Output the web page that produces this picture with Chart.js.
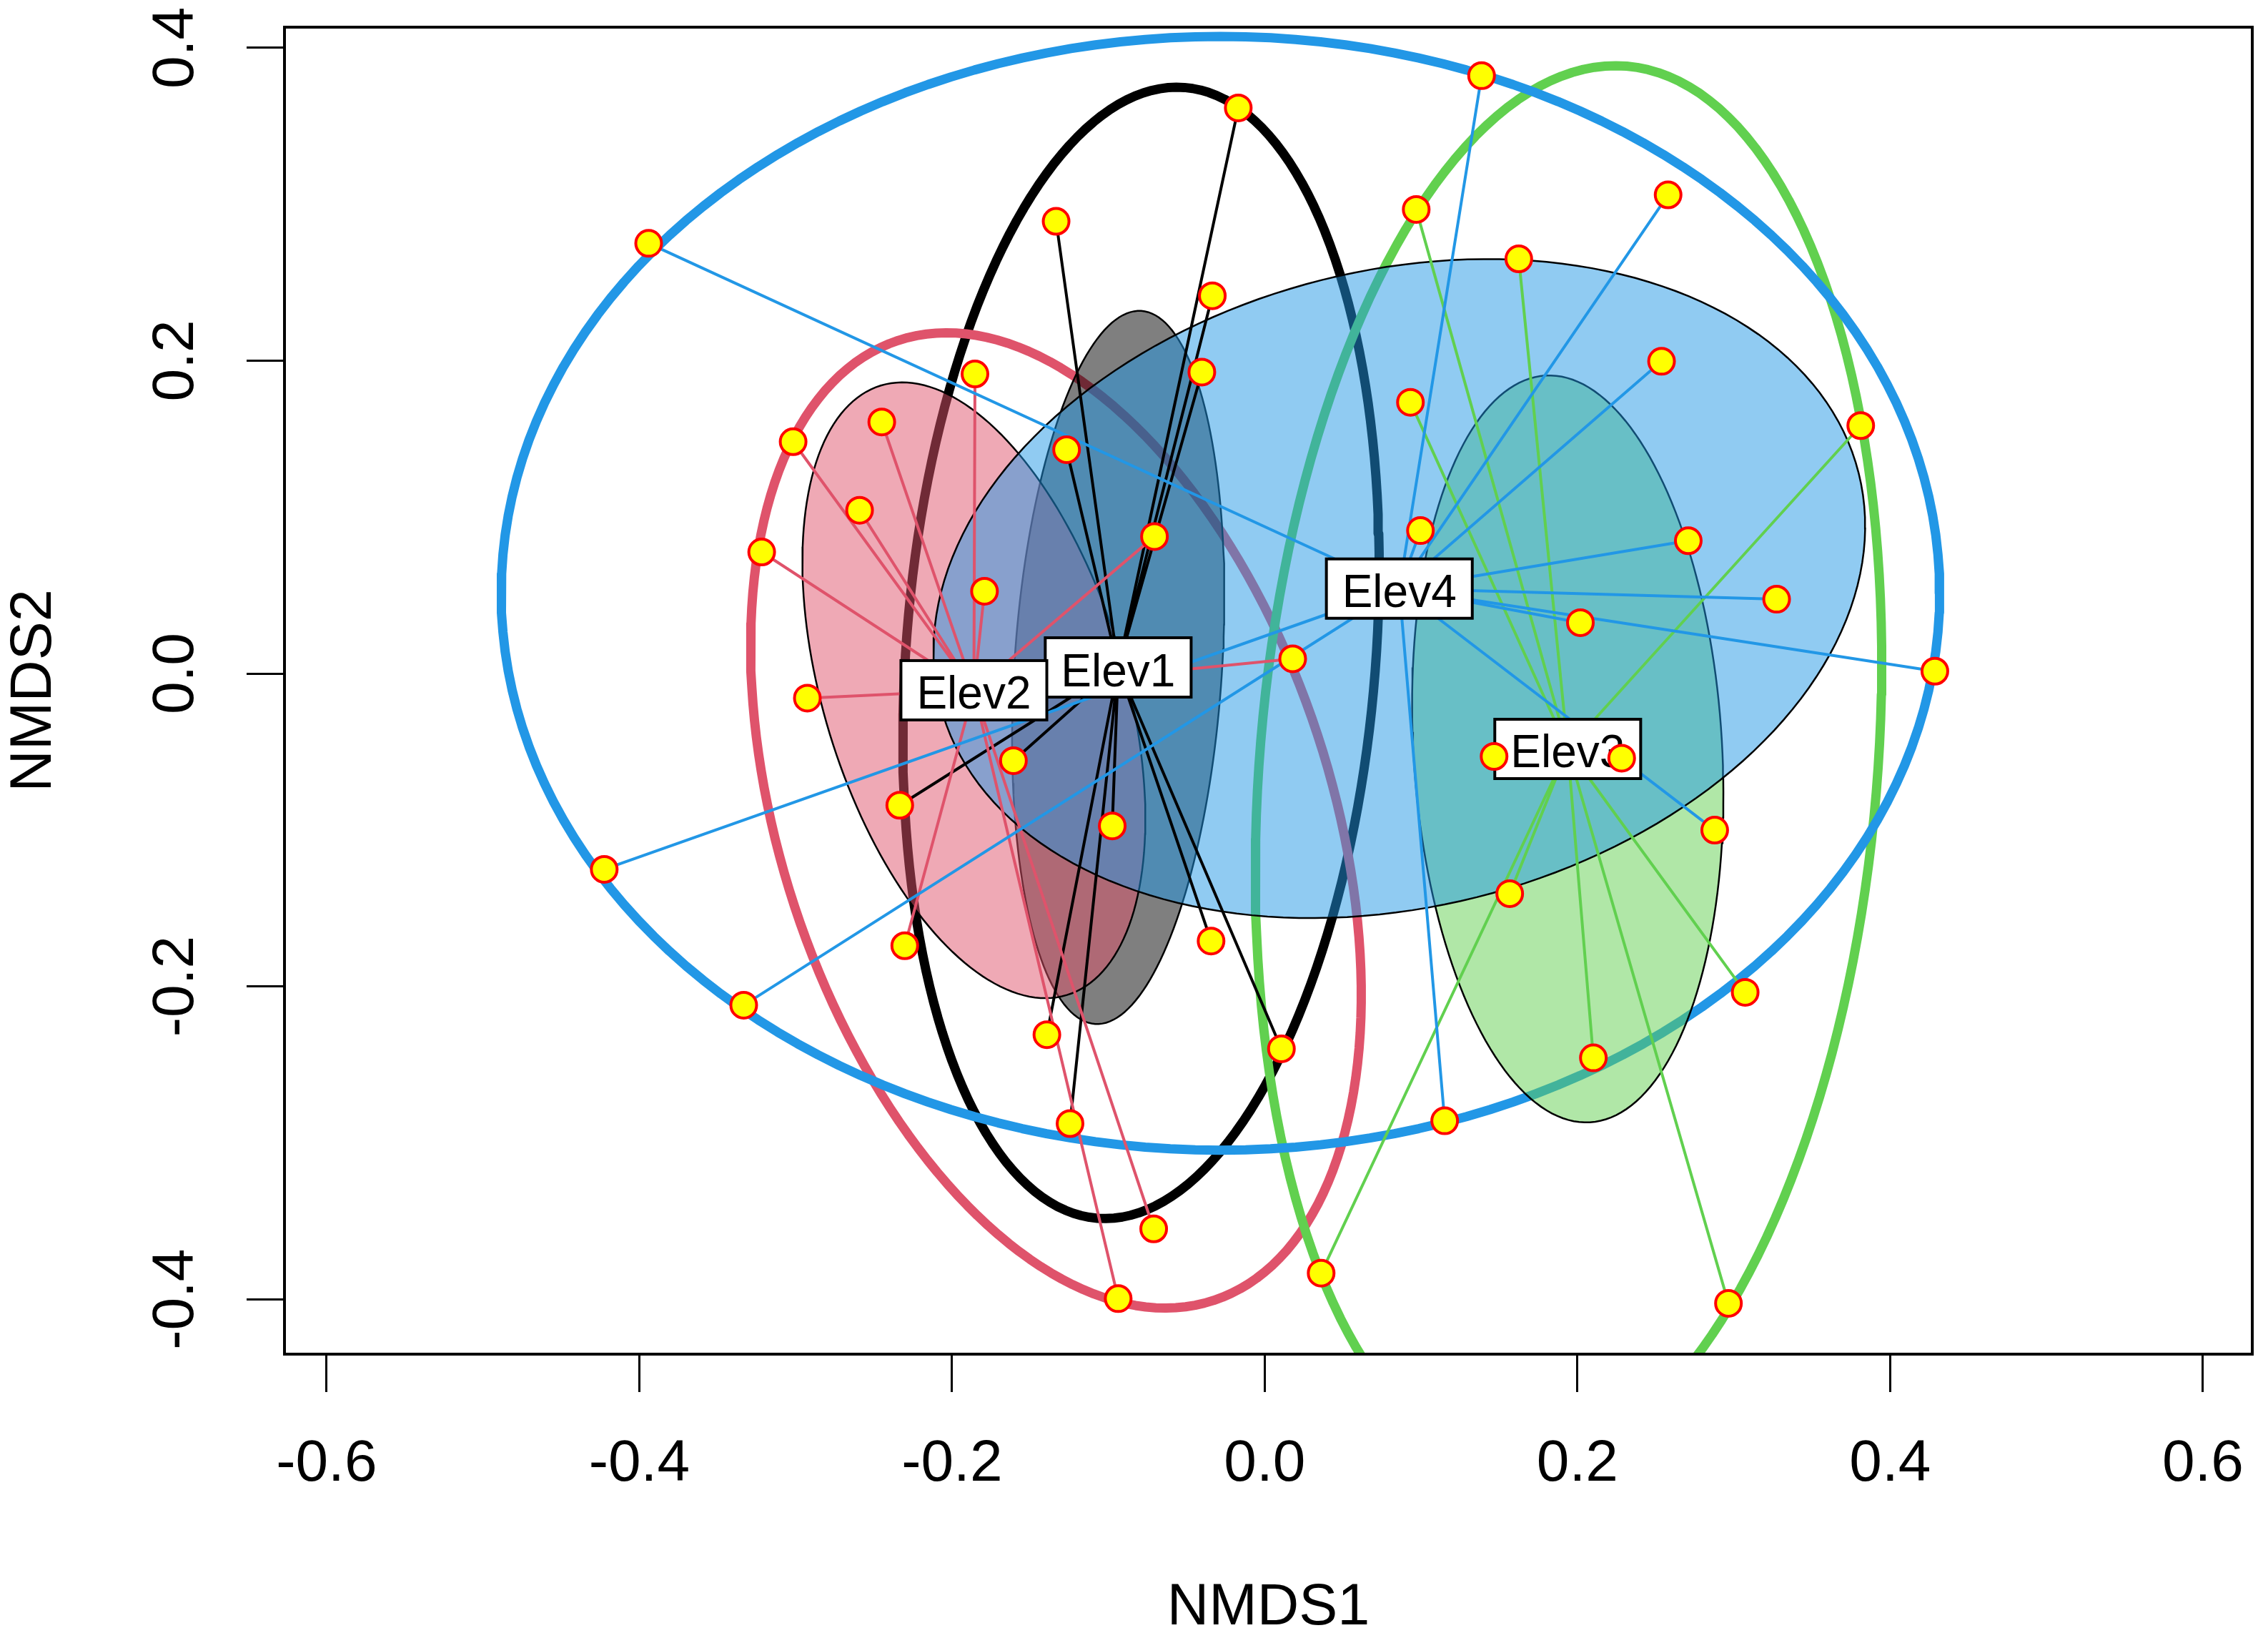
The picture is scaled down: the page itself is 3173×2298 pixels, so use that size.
<!DOCTYPE html>
<html>
<head>
<meta charset="utf-8">
<script src="https://cdn.jsdelivr.net/npm/chart.js@4.4.1/dist/chart.umd.min.js"></script>
<style>
  html, body { margin: 0; padding: 0; background: #fff; }
  #wrap { width: 3173px; height: 2298px; }
</style>
</head>
<body>
<div id="wrap"><canvas id="myChart" width="3173" height="2298"></canvas></div>
<script>
// groups (elevation classes)
const groupNames = ["Elev1", "Elev2", "Elev3", "Elev4"];

// site scores
const elev1X = [-0.0169, -0.1334, -0.0335, -0.0402, -0.1267, -0.1607, -0.2334, -0.0975, -0.0343, -0.1393, 0.0107, -0.1245];
const elev1Y = [0.3616, 0.2891, 0.2415, 0.1927, 0.1431, -0.0557, -0.0842, -0.0974, -0.1710, -0.2309, -0.2399, -0.2877];

const elev2X = [-0.3016, -0.2449, -0.1853, -0.2591, -0.3217, -0.0705, -0.1792, 0.0179, -0.2925, -0.2302, -0.0710, -0.0937];
const elev2Y = [0.1482, 0.1608, 0.1915, 0.1044, 0.0777, 0.0876, 0.0526, 0.0094, -0.0157, -0.1740, -0.3550, -0.3996];

const elev3X = [0.0969, 0.1625, 0.0932, 0.3812, 0.1467, 0.2283, 0.1567, 0.3073, 0.2102, 0.0361, 0.2966];
const elev3Y = [0.2967, 0.2651, 0.1734, 0.1585, -0.0530, -0.0541, -0.1407, -0.2038, -0.2457, -0.3833, -0.4026];

const elev4X = [-0.3940, -0.4224, -0.3332, 0.1387, 0.2580, 0.2538, 0.0996, 0.2709, 0.3274, 0.2019, 0.4286, 0.2878, 0.1151];
const elev4Y = [0.2750, -0.1252, -0.2120, 0.3822, 0.3060, 0.1996, 0.0914, 0.0849, 0.0475, 0.0325, 0.0015, -0.1001, -0.2859];

// group centroids (spider centres, label positions)
const centroidX = [-0.0937, -0.1860, 0.1938, 0.0861];
const centroidY = [0.0039, -0.0107, -0.0482, 0.0543];

// enclosing ellipses (centre, semi axes, angle in degrees)
const hullCx = [-0.0791, -0.1335, 0.1943, -0.0283];
const hullCy = [0.0132, -0.0939, -0.0596, 0.0513];
const hullA = [0.3625, 0.3230, 0.4494, 0.4600];
const hullB = [0.1502, 0.1760, 0.1975, 0.3560];
const hullAngle = [85.6, 108.2, 85.25, 0];

// standard error ellipses around the centroids
const seA = [0.2284, 0.2037, 0.2391, 0.3029];
const seB = [0.0664, 0.0963, 0.0987, 0.2034];
const seAngle = [86.3, 107.0, 93.4, 14.1];

const xTicks = [-0.6, -0.4, -0.2, 0, 0.2, 0.4, 0.6];
const yTicks = [-0.4, -0.2, 0, 0.2, 0.4];

const groupX = [elev1X, elev2X, elev3X, elev4X];
const groupY = [elev1Y, elev2Y, elev3Y, elev4Y];
const lineColors = ["#000000", "#DF536B", "#61D04F", "#2297E6"];
const fillColors = ["rgba(0,0,0,0.5)", "rgba(223,83,107,0.5)", "rgba(97,208,79,0.5)", "rgba(34,151,230,0.5)"];
const fontFamily = '"Liberation Sans", Arial, sans-serif';

function ellipse(cx, cy, a, b, deg) {
    let rad = deg * Math.PI / 180;
    let pts = [];
    for (let i = 0; i <= 182; i++) {
        let t = i / 180 * 2 * Math.PI;
        let ex = a * Math.cos(t), ey = b * Math.sin(t);
        pts.push({
            x: cx + ex * Math.cos(rad) - ey * Math.sin(rad),
            y: cy + ex * Math.sin(rad) + ey * Math.cos(rad)
        });
    }
    return pts;
}

let datasets = [];

groupNames.forEach((name, i) => {
    datasets.push({
        label: name + " hull",
        data: ellipse(hullCx[i], hullCy[i], hullA[i], hullB[i], hullAngle[i]),
        showLine: true,
        fill: false,
        borderColor: lineColors[i],
        borderWidth: 13,
        borderJoinStyle: "round",
        pointRadius: 0,
        tension: 0,
        clip: 0,
        order: 50 - i
    });
});

groupNames.forEach((name, i) => {
    datasets.push({
        label: name + " se",
        data: ellipse(centroidX[i], centroidY[i], seA[i], seB[i], seAngle[i]),
        showLine: true,
        fill: "shape",
        backgroundColor: fillColors[i],
        borderColor: "#000000",
        borderWidth: 2.5,
        pointRadius: 0,
        tension: 0,
        clip: 0,
        order: 40 - i
    });
});

groupNames.forEach((name, i) => {
    let spokes = [];
    groupX[i].forEach((x, j) => {
        spokes.push({ x: centroidX[i], y: centroidY[i] });
        spokes.push({ x: x, y: groupY[i][j] });
        spokes.push({ x: x, y: null });
    });
    datasets.push({
        label: name + " spider",
        data: spokes,
        showLine: true,
        spanGaps: false,
        fill: false,
        borderColor: lineColors[i],
        borderWidth: 4,
        pointRadius: 0,
        tension: 0,
        clip: 0,
        order: 30 - i
    });
});

let sites = [];
groupNames.forEach((name, i) => {
    groupX[i].forEach((x, j) => sites.push({ x: x, y: groupY[i][j] }));
});
datasets.push({
    label: "sites",
    data: sites,
    showLine: false,
    pointRadius: 18,
    pointBorderWidth: 4,
    pointBackgroundColor: "#FFFF00",
    pointBorderColor: "#FF0000",
    clip: false,
    order: 0
});

// centroid labels go between spider lines and site points
const centroidLabels = {
    id: "centroidLabels",
    beforeDatasetDraw(chart, args) {
        if (chart.data.datasets[args.index].label !== "sites") return;
        const ctx = chart.ctx;
        const xs = chart.scales.x, ys = chart.scales.y;
        ctx.save();
        ctx.font = "64px " + fontFamily;
        ctx.textAlign = "center";
        ctx.textBaseline = "alphabetic";
        groupNames.forEach((name, i) => {
            let px = xs.getPixelForValue(centroidX[i]);
            let py = ys.getPixelForValue(centroidY[i]);
            let w = ctx.measureText(name).width + 44;
            let h = 83;
            ctx.fillStyle = "#ffffff";
            ctx.fillRect(px - w / 2, py - h / 2, w, h);
            ctx.lineWidth = 4;
            ctx.strokeStyle = "#000000";
            ctx.strokeRect(px - w / 2, py - h / 2, w, h);
            ctx.fillStyle = "#000000";
            ctx.fillText(name, px, py + 26);
        });
        ctx.restore();
    }
};

const plotFrame = {
    id: "plotFrame",
    afterDraw(chart) {
        const { ctx, chartArea } = chart;
        ctx.save();
        ctx.lineWidth = 4;
        ctx.strokeStyle = "#000000";
        ctx.strokeRect(chartArea.left, chartArea.top, chartArea.right - chartArea.left, chartArea.bottom - chartArea.top);
        ctx.restore();
    }
};

Chart.defaults.font.family = fontFamily;
Chart.defaults.color = "#000000";

const ctx = document.getElementById("myChart");
new Chart(ctx, {
    type: "scatter",
    data: { datasets: datasets },
    options: {
        responsive: false,
        maintainAspectRatio: false,
        devicePixelRatio: 1,
        animation: false,
        events: [],
        layout: { padding: { top: 38, right: 17, bottom: 0, left: 0 } },
        plugins: {
            legend: { display: false },
            tooltip: { enabled: false }
        },
        scales: {
            x: {
                type: "linear",
                position: "bottom",
                min: -0.6269,
                max: 0.6316,
                bounds: "data",
                afterBuildTicks: (s) => { s.ticks = xTicks.map((v) => ({ value: v })); },
                afterFit: (s) => {
                    s.height = 404;
                    s.paddingLeft = 0;
                    s.paddingRight = 0;
                },
                grid: { display: true, drawOnChartArea: false, drawTicks: true, tickLength: 53, tickWidth: 3, tickColor: "#000000" },
                border: { display: false },
                ticks: {
                    autoSkip: false,
                    maxRotation: 0,
                    padding: 52,
                    color: "#000000",
                    font: { size: 82 },
                    callback: (v) => Number(v).toFixed(1)
                },
                title: { display: true, text: "NMDS1", color: "#000000", font: { size: 81 }, padding: { top: 0, bottom: 0 } }
            },
            y: {
                type: "linear",
                position: "left",
                min: -0.4351,
                max: 0.4132,
                bounds: "data",
                afterBuildTicks: (s) => { s.ticks = yTicks.map((v) => ({ value: v })); },
                afterFit: (s) => {
                    s.width = 398;
                    s.paddingTop = 0;
                    s.paddingBottom = 0;
                },
                grid: { display: true, drawOnChartArea: false, drawTicks: true, tickLength: 53, tickWidth: 3, tickColor: "#000000" },
                border: { display: false },
                ticks: {
                    autoSkip: false,
                    minRotation: 90,
                    maxRotation: 90,
                    crossAlign: "center",
                    padding: 27,
                    color: "#000000",
                    font: { size: 82 },
                    callback: (v) => Number(v).toFixed(1)
                },
                title: { display: true, text: "NMDS2", color: "#000000", font: { size: 81 }, padding: { top: 0, bottom: 0 } }
            }
        }
    },
    plugins: [centroidLabels, plotFrame]
});
</script>
</body>
</html>
